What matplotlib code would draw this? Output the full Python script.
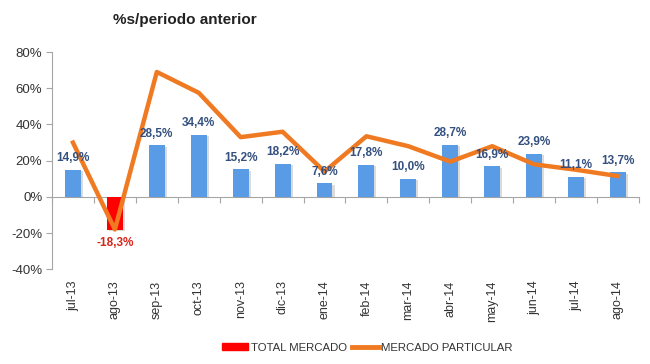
import numpy as np
import matplotlib
matplotlib.use("Agg")
import matplotlib.pyplot as plt
import matplotlib.patheffects as pe
from matplotlib.patches import Patch
from matplotlib.lines import Line2D

# data
months = ['jul-13', 'ago-13', 'sep-13', 'oct-13', 'nov-13', 'dic-13', 'ene-14',
          'feb-14', 'mar-14', 'abr-14', 'may-14', 'jun-14', 'jul-14', 'ago-14']
total_mercado = [14.9, -18.3, 28.5, 34.4, 15.2, 18.2, 7.6,
                 17.8, 10.0, 28.7, 16.9, 23.9, 11.1, 13.7]
mercado_particular = [30.0, -18.0, 69.0, 57.5, 33.0, 36.0, 14.0,
                      33.5, 28.0, 19.5, 28.0, 18.0, 15.0, 11.5]
yticks = [-40, -20, 0, 20, 40, 60, 80]

blue = '#5A9BE6'
red = '#FF0000'
orange = '#F07A22'
lab_blue = '#34507F'
grey = '#A6A6A6'

plt.rcParams['font.family'] = ['Liberation Sans', 'DejaVu Sans']

fig = plt.figure(figsize=(6.5, 3.64), dpi=100)
ax = fig.add_axes([0.08, 0.26, 0.903, 0.597])

x = np.arange(len(months))
colors = [red if v < 0 else blue for v in total_mercado]
bars = ax.bar(x, total_mercado, width=0.38, color=colors, zorder=2)
for b in bars:
    b.set_path_effects([pe.SimplePatchShadow(offset=(1.5, -1), shadow_rgbFace='#999999', alpha=0.35),
                        pe.Normal()])

ax.plot(x, mercado_particular, color=orange, lw=3.2, solid_joinstyle='round', zorder=3)

for xi, v in zip(x, total_mercado):
    lab = ('%.1f%%' % v).replace('.', ',')
    if v < 0:
        ax.annotate(lab, (xi, v), xytext=(0, -5), textcoords='offset points',
                    ha='center', va='top', fontsize=8.5, fontweight='bold', color='#D9261C', zorder=4)
    else:
        ax.annotate(lab, (xi, v), xytext=(0, 4), textcoords='offset points',
                    ha='center', va='bottom', fontsize=8.5, fontweight='bold', color=lab_blue, zorder=4)

ax.set_xlim(-0.5, len(months) - 0.5)
ax.set_ylim(-40, 80)
ax.set_yticks(yticks)
ax.set_yticklabels(['%d%%' % t for t in yticks], fontsize=9.5, color='#333333')
ax.tick_params(axis='y', length=4, color=grey, pad=3)

ax.set_xticks(x)
ax.set_xticklabels(months, rotation=90, fontsize=9, color='#333333')
ax.tick_params(axis='x', length=0, pad=8)

for s in ['top', 'right', 'bottom']:
    ax.spines[s].set_visible(False)
ax.spines['left'].set_color(grey)

# zero line with category-boundary ticks
sec = ax.secondary_xaxis(1 / 3)
sec.set_xticks(np.arange(len(months) + 1) - 0.5)
sec.set_xticklabels([])
sec.tick_params(axis='x', direction='out', length=4, color=grey)
sec.spines['bottom'].set_color(grey)

fig.text(0.285, 0.945, '%s/periodo anterior', ha='center', va='center',
         fontsize=11, fontweight='bold', color='#222222')

handles = [Patch(facecolor=red, edgecolor=red),
           Line2D([0], [0], color=orange, lw=3.5)]
fig.legend(handles, ['TOTAL MERCADO', 'MERCADO PARTICULAR'],
           loc='center', bbox_to_anchor=(0.565, 0.045), ncol=2, frameon=False,
           fontsize=8.2, handlelength=2.3, handleheight=0.6,
           handletextpad=0.2, columnspacing=0.5, labelcolor='#333333')

fig.savefig('out.png', dpi=100)
